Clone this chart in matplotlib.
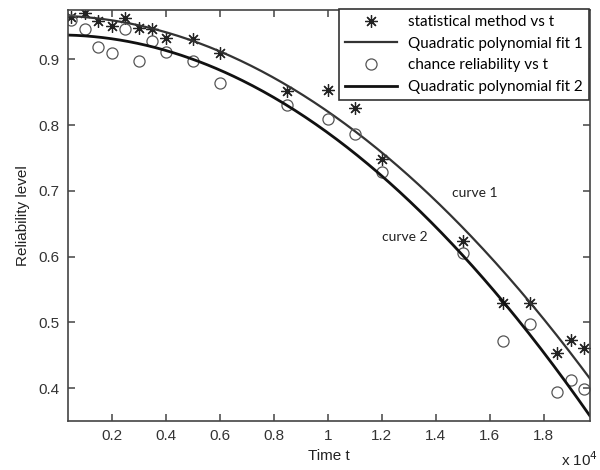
import numpy as np
import matplotlib.pyplot as plt
from matplotlib.ticker import FuncFormatter

# time (t) and reliability values
t = [500, 1000, 1500, 2000, 2500, 3000, 3500, 4000, 5000, 6000,
     8500, 10000, 11000, 12000, 15000, 16500, 17500, 18500, 19000, 19500]
r_stat = [0.964, 0.971, 0.958, 0.951, 0.962, 0.948, 0.946, 0.933, 0.930, 0.909,
          0.852, 0.853, 0.826, 0.749, 0.623, 0.530, 0.529, 0.454, 0.474, 0.461]
r_chance = [0.959, 0.946, 0.919, 0.909, 0.946, 0.897, 0.928, 0.911, 0.898, 0.864,
            0.830, 0.809, 0.786, 0.728, 0.605, 0.472, 0.497, 0.394, 0.412, 0.399]

xlim = (370, 19700)
ylim = (0.35, 0.975)

tick_font = 'Liberation Sans'
note_font = 'Lato'

fig = plt.figure(figsize=(6, 4.7), dpi=100)
ax = fig.add_axes([0.113, 0.104, 0.870, 0.875])

# quadratic fits
p1 = np.polyfit(t, r_stat, 2)
p2 = np.polyfit(t, r_chance, 2)
tt = np.linspace(xlim[0], xlim[1], 300)

ax.plot(t, r_stat, linestyle='none', marker=(8, 2, 0), markersize=9,
        markeredgewidth=0.9, color='#222222', label='statistical method vs t')
ax.plot(tt, np.polyval(p1, tt), color='#333333', lw=1.6, label='Quadratic polynomial fit 1')
ax.plot(t, r_chance, linestyle='none', marker='o', markersize=8, markerfacecolor='none',
        markeredgewidth=0.9, color='#555555', label='chance reliability vs t')
ax.plot(tt, np.polyval(p2, tt), color='#111111', lw=2.0, label='Quadratic polynomial fit 2')

ax.set_xlim(xlim)
ax.set_ylim(ylim)
ax.set_xticks(np.arange(2000, 19000, 2000))
ax.set_yticks([0.4, 0.5, 0.6, 0.7, 0.8, 0.9])
ax.xaxis.set_major_formatter(FuncFormatter(lambda v, p: '%g' % (v / 1e4)))
ax.yaxis.set_major_formatter(FuncFormatter(lambda v, p: '%g' % v))
ax.tick_params(direction='in', length=5, width=1.1, colors='#444444',
               labelcolor='#333333', labelsize=11, top=True, right=True, pad=6)
for lab in ax.get_xticklabels() + ax.get_yticklabels():
    lab.set_family(tick_font)
for s in ax.spines.values():
    s.set_color('#444444')
    s.set_linewidth(1.2)

ax.set_xlabel('Time t', fontsize=11, family=tick_font, color='#222222', labelpad=4)
ax.set_ylabel('Reliability level', fontsize=11, family=tick_font, color='#222222', labelpad=6)
fig.text(0.935, 0.008, 'x 10$^4$', fontsize=11, family=tick_font, color='#222222')

ax.text(14600, 0.69, 'curve 1', fontsize=10, family=note_font, color='#222222')
ax.text(12000, 0.624, 'curve 2', fontsize=10, family=note_font, color='#222222')

leg = ax.legend(loc='upper right', bbox_to_anchor=(0.994, 0.997), bbox_transform=fig.transFigure,
                fancybox=False, framealpha=1, edgecolor='#333333', borderpad=0.4,
                handlelength=3.4, handletextpad=0.7, labelspacing=0.5,
                prop={'family': note_font, 'size': 11})
leg.get_frame().set_linewidth(1.2)

fig.savefig('out.png', dpi=100)
